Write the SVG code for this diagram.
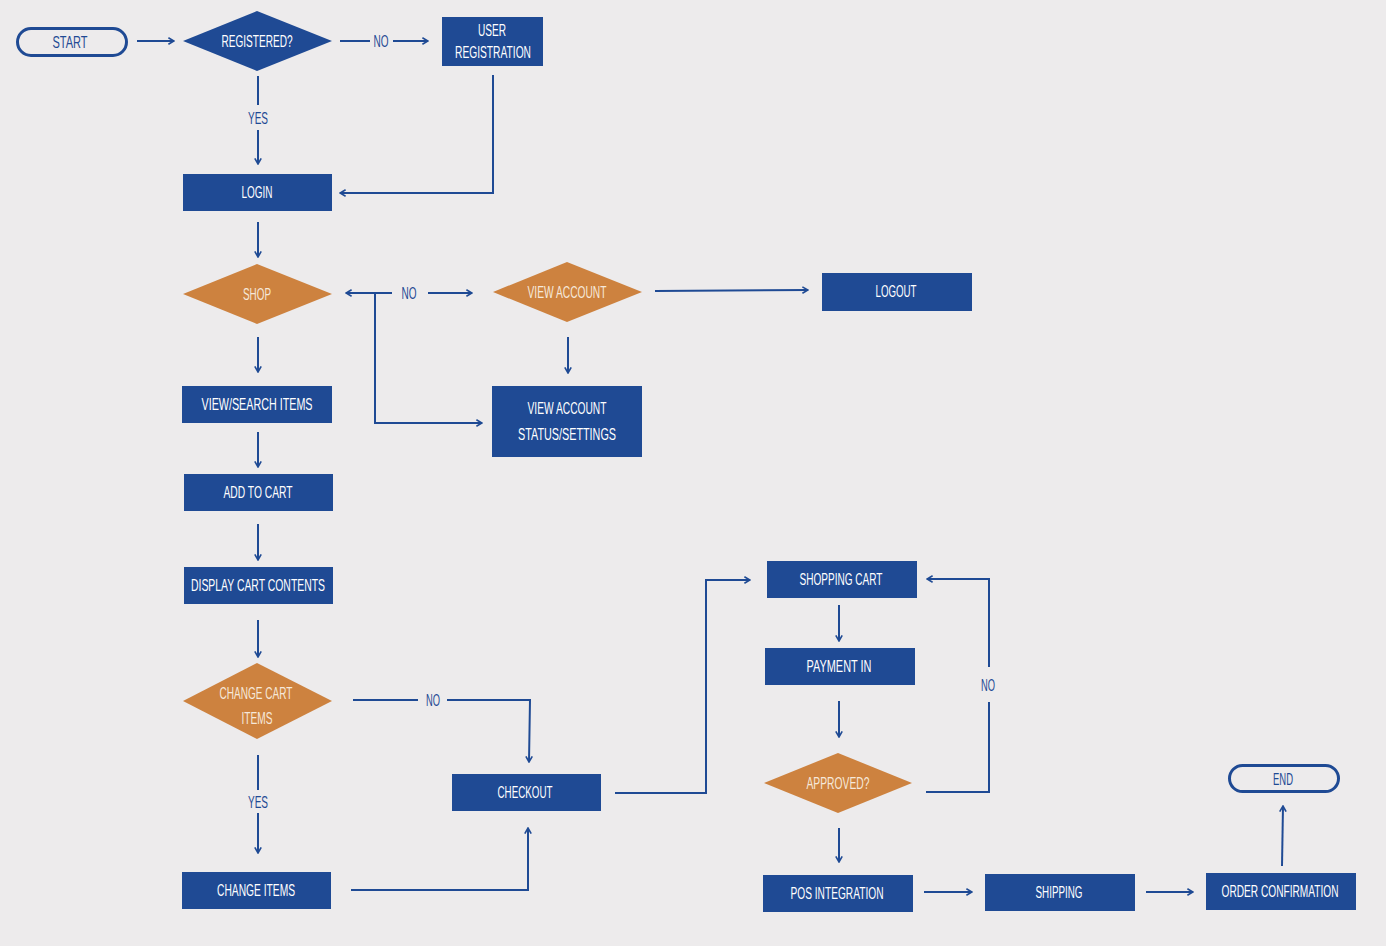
<svg xmlns="http://www.w3.org/2000/svg" width="1386" height="946" viewBox="0 0 1386 946">
<defs>
<marker id="ah" viewBox="0 0 10 10" refX="9" refY="5" markerWidth="8" markerHeight="8" markerUnits="userSpaceOnUse" orient="auto">
<path d="M2,1 L9,5 L2,9" fill="none" stroke="#1F4A94" stroke-width="2"/>
</marker>
<style>
.b{fill:#1F4A94}
.o{fill:#CD823F}
.term{fill:none;stroke:#1F4A94;stroke-width:3}
.t{font-family:"Liberation Sans",Arial,sans-serif;font-size:17px;text-anchor:middle;fill:#FFFFFF}
.to{font-family:"Liberation Sans",Arial,sans-serif;font-size:17px;text-anchor:middle;fill:#F6E8DA}
.tb{font-family:"Liberation Sans",Arial,sans-serif;font-size:17px;text-anchor:middle;fill:#1F4A94}
.c{fill:none;stroke:#1F4A94;stroke-width:2}
.c.a{marker-end:url(#ah)}
</style>
</defs>
<rect width="1386" height="946" fill="#EDEBEC"/>

<g id="connectors">
<path class="c a" d="M137,41 H174"/>
<path class="c" d="M340,41 H370"/>
<path class="c a" d="M393,41 H428"/>
<path class="c a" d="M493,75 V193 H340"/>
<path class="c" d="M258,76 V105"/>
<path class="c a" d="M258,130 V164"/>
<path class="c a" d="M258,222 V257"/>
<path class="c a" d="M392,293 H346"/>
<path class="c a" d="M375,293 V423 H482"/>
<path class="c a" d="M428,293 H472"/>
<path class="c a" d="M655,291 L808,290"/>
<path class="c a" d="M568,337 V373"/>
<path class="c a" d="M258,337 V372"/>
<path class="c a" d="M258,432 V467"/>
<path class="c a" d="M258,524 V560"/>
<path class="c a" d="M258,620 V657"/>
<path class="c" d="M353,700 H418"/>
<path class="c a" d="M447,700 H530 L529,762"/>
<path class="c" d="M258,755 V790"/>
<path class="c a" d="M258,813 V853"/>
<path class="c a" d="M351,890 H528 V828"/>
<path class="c a" d="M615,793 H706 V580 H750"/>
<path class="c a" d="M839,605 V641"/>
<path class="c a" d="M839,701 V737"/>
<path class="c" d="M926,792 H989 V702"/>
<path class="c a" d="M989,667 V579 H927"/>
<path class="c a" d="M839,828 V862"/>
<path class="c a" d="M924,892 H972"/>
<path class="c a" d="M1146,892 H1193"/>
<path class="c a" d="M1282,866 L1283,806"/>
<text class="tb" x="381" y="47" textLength="15" lengthAdjust="spacingAndGlyphs">NO</text>
<text class="tb" x="258" y="124" textLength="20" lengthAdjust="spacingAndGlyphs">YES</text>
<text class="tb" x="409" y="299" textLength="15" lengthAdjust="spacingAndGlyphs">NO</text>
<text class="tb" x="433" y="706" textLength="14" lengthAdjust="spacingAndGlyphs">NO</text>
<text class="tb" x="258" y="808" textLength="20" lengthAdjust="spacingAndGlyphs">YES</text>
<text class="tb" x="988" y="691" textLength="14" lengthAdjust="spacingAndGlyphs">NO</text>
</g>

<g id="start">
<rect class="term" x="17.5" y="28.5" width="109" height="27" rx="13.5"/>
<text class="tb" x="70" y="48" textLength="35" lengthAdjust="spacingAndGlyphs">START</text>
</g>
<g id="registered">
<polygon class="b" points="183,41 257,11 332,41 257,71"/>
<text class="t" x="257" y="47" textLength="71" lengthAdjust="spacingAndGlyphs">REGISTERED?</text>
</g>
<g id="user-registration">
<rect class="b" x="442" y="17" width="101" height="49"/>
<text class="t" x="492" y="36" textLength="28" lengthAdjust="spacingAndGlyphs">USER</text>
<text class="t" x="493" y="58" textLength="76" lengthAdjust="spacingAndGlyphs">REGISTRATION</text>
</g>
<g id="login">
<rect class="b" x="183" y="174" width="149" height="37"/>
<text class="t" x="257" y="198" textLength="31" lengthAdjust="spacingAndGlyphs">LOGIN</text>
</g>
<g id="shop">
<polygon class="o" points="183,294 257,264 332,294 257,324"/>
<text class="to" x="257" y="300" textLength="28" lengthAdjust="spacingAndGlyphs">SHOP</text>
</g>
<g id="view-account">
<polygon class="o" points="493,292 567,262 642,292 567,322"/>
<text class="to" x="567" y="298" textLength="79" lengthAdjust="spacingAndGlyphs">VIEW ACCOUNT</text>
</g>
<g id="logout">
<rect class="b" x="822" y="273" width="150" height="38"/>
<text class="t" x="896" y="297" textLength="41" lengthAdjust="spacingAndGlyphs">LOGOUT</text>
</g>
<g id="view-search-items">
<rect class="b" x="182" y="386" width="150" height="37"/>
<text class="t" x="257" y="410" textLength="111" lengthAdjust="spacingAndGlyphs">VIEW/SEARCH ITEMS</text>
</g>
<g id="view-account-status">
<rect class="b" x="492" y="386" width="150" height="71"/>
<text class="t" x="567" y="414" textLength="79" lengthAdjust="spacingAndGlyphs">VIEW ACCOUNT</text>
<text class="t" x="567" y="440" textLength="98" lengthAdjust="spacingAndGlyphs">STATUS/SETTINGS</text>
</g>
<g id="add-to-cart">
<rect class="b" x="184" y="474" width="149" height="37"/>
<text class="t" x="258" y="498" textLength="69" lengthAdjust="spacingAndGlyphs">ADD TO CART</text>
</g>
<g id="display-cart-contents">
<rect class="b" x="184" y="567" width="149" height="37"/>
<text class="t" x="258" y="591" textLength="134" lengthAdjust="spacingAndGlyphs">DISPLAY CART CONTENTS</text>
</g>
<g id="change-cart-items">
<polygon class="o" points="183,701 257,663 332,701 257,739"/>
<text class="to" x="256" y="699" textLength="73" lengthAdjust="spacingAndGlyphs">CHANGE CART</text>
<text class="to" x="257" y="724" textLength="31" lengthAdjust="spacingAndGlyphs">ITEMS</text>
</g>
<g id="change-items">
<rect class="b" x="182" y="872" width="149" height="37"/>
<text class="t" x="256" y="896" textLength="78" lengthAdjust="spacingAndGlyphs">CHANGE ITEMS</text>
</g>
<g id="checkout">
<rect class="b" x="452" y="774" width="149" height="37"/>
<text class="t" x="525" y="798" textLength="55" lengthAdjust="spacingAndGlyphs">CHECKOUT</text>
</g>
<g id="shopping-cart">
<rect class="b" x="767" y="561" width="150" height="37"/>
<text class="t" x="841" y="585" textLength="83" lengthAdjust="spacingAndGlyphs">SHOPPING CART</text>
</g>
<g id="payment-in">
<rect class="b" x="765" y="648" width="150" height="37"/>
<text class="t" x="839" y="672" textLength="65" lengthAdjust="spacingAndGlyphs">PAYMENT IN</text>
</g>
<g id="approved">
<polygon class="o" points="764,783 838,753 912,783 838,813"/>
<text class="to" x="838" y="789" textLength="63" lengthAdjust="spacingAndGlyphs">APPROVED?</text>
</g>
<g id="pos-integration">
<rect class="b" x="763" y="875" width="150" height="37"/>
<text class="t" x="837" y="899" textLength="93" lengthAdjust="spacingAndGlyphs">POS INTEGRATION</text>
</g>
<g id="shipping">
<rect class="b" x="985" y="874" width="150" height="37"/>
<text class="t" x="1059" y="898" textLength="47" lengthAdjust="spacingAndGlyphs">SHIPPING</text>
</g>
<g id="order-confirmation">
<rect class="b" x="1206" y="873" width="150" height="37"/>
<text class="t" x="1280" y="897" textLength="117" lengthAdjust="spacingAndGlyphs">ORDER CONFIRMATION</text>
</g>
<g id="end">
<rect class="term" x="1229.5" y="765.5" width="109" height="26" rx="13"/>
<text class="tb" x="1283" y="785" textLength="20" lengthAdjust="spacingAndGlyphs">END</text>
</g>
</svg>
